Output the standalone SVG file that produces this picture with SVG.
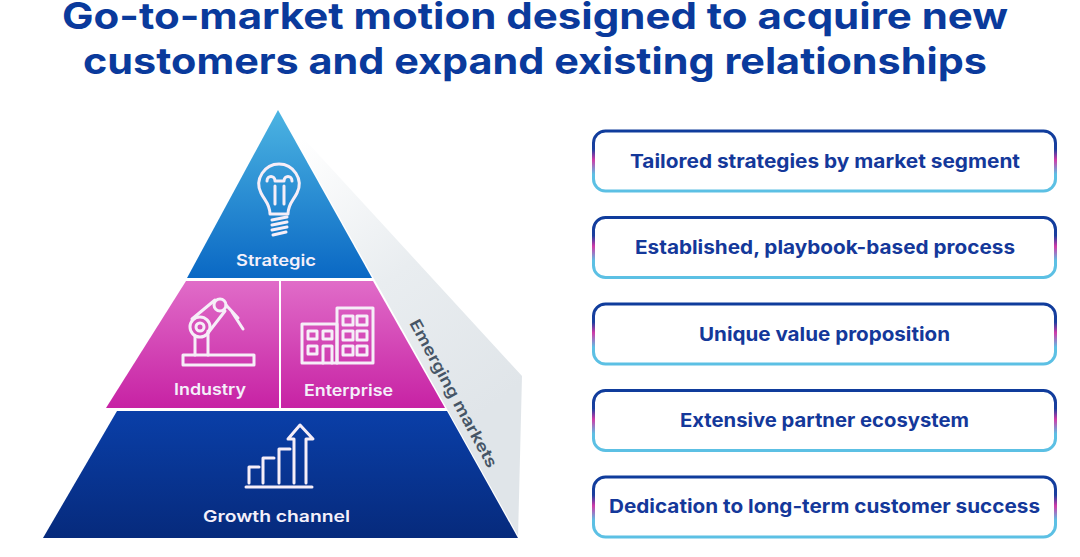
<svg xmlns="http://www.w3.org/2000/svg" width="1080" height="557" viewBox="0 0 1080 557">
<style>
text{font-family:"Inter","Liberation Sans",sans-serif;font-weight:600}
.t{font-size:37px;font-weight:700;fill:#0a3a9c;text-anchor:start}
.w{font-size:16px;fill:#f4f0fa;text-anchor:start}
.b{font-size:19px;font-weight:700;fill:#14389a;text-anchor:start}
.i{fill:none;stroke:#f6eef8;stroke-width:3;stroke-linecap:round;stroke-linejoin:round}
.box{fill:#fff;stroke:url(#bx);stroke-width:3}
</style>
<defs>
<linearGradient id="gs" x1="0" y1="110" x2="0" y2="278" gradientUnits="userSpaceOnUse"><stop offset="0" stop-color="#4cb4e2"/><stop offset="1" stop-color="#0a68c4"/></linearGradient>
<linearGradient id="gm" x1="0" y1="281" x2="0" y2="408" gradientUnits="userSpaceOnUse"><stop offset="0" stop-color="#e06cc8"/><stop offset="1" stop-color="#c722a4"/></linearGradient>
<linearGradient id="gn" x1="0" y1="411" x2="0" y2="538" gradientUnits="userSpaceOnUse"><stop offset="0" stop-color="#0a3fa8"/><stop offset="1" stop-color="#062a7c"/></linearGradient>
<linearGradient id="gg" x1="300" y1="140" x2="500" y2="400" gradientUnits="userSpaceOnUse"><stop offset="0" stop-color="#fff"/><stop offset=".5" stop-color="#e9edf0"/><stop offset="1" stop-color="#e0e5e9"/></linearGradient>
<linearGradient id="bx" x1="0" y1="0" x2="0" y2="1"><stop offset="0" stop-color="#0f3c9c"/><stop offset=".3" stop-color="#1a3f9e"/><stop offset=".48" stop-color="#d03aa8"/><stop offset=".72" stop-color="#5cc0e4"/><stop offset="1" stop-color="#5cc0e4"/></linearGradient>
</defs>
<rect width="1080" height="557" fill="#fff"/>
<g id="title">
<text class="t" x="62" y="29" textLength="946" lengthAdjust="spacingAndGlyphs">Go-to-market motion designed to acquire new</text>
<text class="t" x="83" y="74" textLength="904" lengthAdjust="spacingAndGlyphs">customers and expand existing relationships</text>
</g>
<g id="emerging">
<polygon points="285,118 522,376 518,538 278,110" fill="url(#gg)"/>
<path d="M278,110 L518,538" stroke="#fff" stroke-width="2.500" fill="none"/>
<text transform="translate(409 323) rotate(61.5)" x="0" y="0" style="font-size:16px;font-weight:600;fill:#465566" textLength="166" lengthAdjust="spacingAndGlyphs">Emerging markets</text>
</g>
<g id="strategic">
<polygon points="278,110 372,278 187,278" fill="url(#gs)"/>
<g class="i">
<path d="M270,214 C270,204 265,201 261,193 C254,179 265,164 279,164 C293,164 304,179 297,193 C293,201 288,204 288,214 Z"/>
<path d="M267,181 C267,175 275,175 275,181 H284 C284,175 292,175 292,181 M275,186 V204 M284,186 V204"/>
<path d="M272,220 L287,217 M272,225 L287,222 M272,230 L287,227 M273,235 L286,232"/>
</g>
<text class="w" x="236" y="266" textLength="80" lengthAdjust="spacingAndGlyphs">Strategic</text>
</g>
<g id="industry">
<polygon points="186,281 279,281 279,408 106,408" fill="url(#gm)"/>
<g class="i">
<rect x="183" y="355" width="71" height="10"/>
<path d="M195,355 V336 M208,355 V331"/>
<circle cx="200" cy="327" r="10"/><circle cx="200" cy="327" r="4"/>
<circle cx="220" cy="305" r="6"/>
<path d="M192,319 L215,300 M208,333 L225,311 M226,305 L238,318 M232,312 L243,329"/>
</g>
<text class="w" x="174" y="395" textLength="72" lengthAdjust="spacingAndGlyphs">Industry</text>
</g>
<g id="enterprise">
<polygon points="281,281 373,281 445,408 281,408" fill="url(#gm)"/>
<g class="i">
<rect x="302" y="324" width="35" height="39"/>
<rect x="337" y="308" width="36" height="55"/>
<path d="M308,331 h9 v8 h-9z M323,331 h9 v8 h-9z M308,346 h9 v8 h-9z M323,363 V346 h9 V363"/>
<path d="M343,316 h10 v9 h-10z M357,316 h10 v9 h-10z M343,331 h10 v9 h-10z M357,331 h10 v9 h-10z M343,346 h10 v9 h-10z M357,346 h10 v9 h-10z"/>
</g>
<text class="w" x="304" y="396" textLength="89" lengthAdjust="spacingAndGlyphs">Enterprise</text>
</g>
<g id="growth">
<polygon points="447,411 518,538 43,538 117,411" fill="url(#gn)"/>
<g class="i">
<path d="M246,487 H312"/>
<path d="M249,483 V467 H259 M263,483 V458 H274 M279,483 V449 H290"/>
<path d="M294,483 V439 H288 L300,425 L313,439 H306 V483"/>
</g>
<text class="w" x="203" y="522" textLength="147" lengthAdjust="spacingAndGlyphs">Growth channel</text>
</g>
<g id="b1"><rect class="box" x="593.500" y="131" width="462" height="60" rx="12"/><text class="b" x="630" y="168" textLength="390" lengthAdjust="spacingAndGlyphs">Tailored strategies by market segment</text></g>
<g id="b2"><rect class="box" x="593.500" y="217.500" width="462" height="60" rx="12"/><text class="b" x="635" y="254" textLength="380" lengthAdjust="spacingAndGlyphs">Established, playbook-based process</text></g>
<g id="b3"><rect class="box" x="593.500" y="304" width="462" height="60" rx="12"/><text class="b" x="699" y="341" textLength="251" lengthAdjust="spacingAndGlyphs">Unique value proposition</text></g>
<g id="b4"><rect class="box" x="593.500" y="390.500" width="462" height="60" rx="12"/><text class="b" x="680" y="427" textLength="289" lengthAdjust="spacingAndGlyphs">Extensive partner ecosystem</text></g>
<g id="b5"><rect class="box" x="593.500" y="477" width="462" height="60" rx="12"/><text class="b" x="609" y="513" textLength="431" lengthAdjust="spacingAndGlyphs">Dedication to long-term customer success</text></g>
</svg>
